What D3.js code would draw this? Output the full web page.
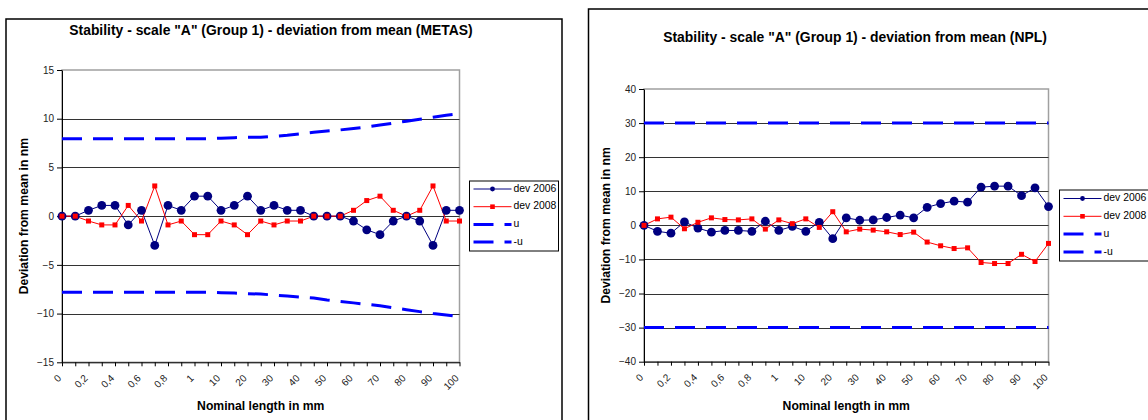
<!DOCTYPE html>
<html>
<head>
<meta charset="utf-8">
<script src="https://cdn.jsdelivr.net/npm/d3@7"></script>
<style>
  html, body { margin: 0; padding: 0; background: #fff; }
  svg { display: block; font-family: "Liberation Sans", Arial, sans-serif; }
</style>
</head>
<body>
<svg id="chart" width="1148" height="420"></svg>
<script>
// Nominal lengths (mm): 0 to 1 in 0.1 steps, then 5 to 100 in 5 mm steps
const categories = [0, 0.1, 0.2, 0.3, 0.4, 0.5, 0.6, 0.7, 0.8, 0.9, 1,
  5, 10, 15, 20, 25, 30, 35, 40, 45, 50, 55, 60, 65, 70, 75, 80, 85, 90, 95, 100];

// Labels shown on every second category
const tickLabels = ["0", "0,2", "0,4", "0,6", "0,8", "1", "10", "20", "30",
  "40", "50", "60", "70", "80", "90", "100"];

// METAS: deviation from mean (nm)
const metasDev2006 = [0, 0, 0.6, 1.1, 1.1, -0.9, 0.6, -3.0, 1.1, 0.6,
  2.05, 2.05, 0.6, 1.1, 2.05, 0.6, 1.1, 0.6, 0.6, 0,
  0, 0, -0.5, -1.4, -1.9, -0.5, 0, -0.5, -3.0, 0.6, 0.6];
const metasDev2008 = [0, 0, -0.5, -0.9, -0.9, 1.1, -0.5, 3.1, -0.9, -0.5,
  -1.9, -1.9, -0.5, -0.9, -1.9, -0.5, -0.9, -0.5, -0.5, 0,
  0, 0, 0.6, 1.6, 2.05, 0.6, 0, 0.6, 3.1, -0.5, -0.5];
const metasU = [7.95, 7.95, 7.95, 7.95, 7.95, 7.95, 7.95, 7.95, 7.95, 7.95,
  7.95, 7.95, 8.0, 8.05, 8.1, 8.1, 8.2, 8.3, 8.45, 8.6,
  8.75, 8.85, 9.0, 9.15, 9.35, 9.55, 9.75, 9.95, 10.15, 10.35, 10.5];
const metasMinusU = [-7.8, -7.8, -7.8, -7.8, -7.8, -7.8, -7.8, -7.8, -7.8, -7.8,
  -7.8, -7.8, -7.85, -7.9, -7.95, -8.0, -8.1, -8.2, -8.3, -8.4,
  -8.6, -8.75, -8.9, -9.05, -9.2, -9.4, -9.6, -9.8, -10.0, -10.15, -10.3];

// NPL: deviation from mean (nm)
const nplDev2006 = [0, -1.75, -2.3, 1.0, -0.8, -2.0, -1.5, -1.5, -1.75, 1.2,
  -1.5, -0.3, -1.75, 0.9, -3.9, 2.2, 1.5, 1.6, 2.3, 3.0,
  2.2, 5.3, 6.4, 7.1, 6.8, 11.2, 11.5, 11.5, 8.7, 11.0, 5.5];
const nplDev2008 = [0, 1.9, 2.4, -1.0, 0.9, 2.2, 1.7, 1.6, 1.9, -1.1,
  1.6, 0.5, 1.9, -0.6, 4.0, -1.9, -1.1, -1.4, -1.9, -2.7,
  -2.0, -4.9, -6.0, -6.8, -6.6, -10.9, -11.2, -11.2, -8.5, -10.6, -5.3];
const nplU = [30, 30, 30, 30, 30, 30, 30, 30, 30, 30,
  30, 30, 30, 30, 30, 30, 30, 30, 30, 30,
  30, 30, 30, 30, 30, 30, 30, 30, 30, 30, 30];
const nplMinusU = [-30, -30, -30, -30, -30, -30, -30, -30, -30, -30,
  -30, -30, -30, -30, -30, -30, -30, -30, -30, -30,
  -30, -30, -30, -30, -30, -30, -30, -30, -30, -30, -30];

const yTicksMetas = [-15, -10, -5, 0, 5, 10, 15];
const yTicksNpl = [-40, -30, -20, -10, 0, 10, 20, 30, 40];

const NAVY = "#000080", RED = "#ff0000", BLUE = "#0000ff";
const DASH = "20,11";

const svg = d3.select("#chart");
svg.append("rect").attr("width", 1148).attr("height", 420).attr("fill", "#fff");

function seriesDefs(dev06, dev08, u, mu) {
  return [
    { name: "dev 2006", values: dev06, color: NAVY, width: 1, marker: "circle" },
    { name: "dev 2008", values: dev08, color: RED, width: 1, marker: "square" },
    { name: "u", values: u, color: BLUE, width: 3, dash: DASH },
    { name: "-u", values: mu, color: BLUE, width: 3, dash: DASH }
  ];
}

function drawChart(cfg) {
  const g = svg.append("g");

  // outer chart frame
  g.append("rect")
    .attr("x", cfg.frame.x).attr("y", cfg.frame.y)
    .attr("width", cfg.frame.w).attr("height", cfg.frame.h)
    .attr("fill", "#fff").attr("stroke", "#000").attr("stroke-width", 1.5);

  const x = d3.scalePoint().domain(categories).range([cfg.plot.x0, cfg.plot.x1]).padding(0);
  const y = d3.scaleLinear().domain(cfg.yDomain).range([cfg.plot.y1, cfg.plot.y0]);

  // plot area border
  g.append("rect")
    .attr("x", cfg.plot.x0).attr("y", cfg.plot.y0)
    .attr("width", cfg.plot.x1 - cfg.plot.x0).attr("height", cfg.plot.y1 - cfg.plot.y0)
    .attr("fill", "#fff").attr("stroke", "#a0a0a0").attr("stroke-width", 1.5);

  // horizontal gridlines
  g.append("g").selectAll("line")
    .data(cfg.yTicks.filter(t => t > cfg.yDomain[0] && t < cfg.yDomain[1]))
    .join("line")
    .attr("x1", cfg.plot.x0).attr("x2", cfg.plot.x1)
    .attr("y1", d => Math.round(y(d)) + 0.5).attr("y2", d => Math.round(y(d)) + 0.5)
    .attr("stroke", "#333").attr("stroke-width", 1);

  // y axis
  const yAxis = g.append("g")
    .attr("transform", `translate(${cfg.plot.x0},0)`)
    .call(d3.axisLeft(y).tickValues(cfg.yTicks).tickSize(5).tickPadding(3).tickSizeOuter(0));
  yAxis.select(".domain").attr("stroke", "#000");
  yAxis.selectAll(".tick line").attr("stroke", "#000");
  yAxis.selectAll(".tick text")
    .attr("font-family", "Liberation Sans, Arial, sans-serif")
    .attr("font-size", 10).attr("fill", "#222");

  // x axis with every second category labelled
  const xAxis = g.append("g")
    .attr("transform", `translate(0,${cfg.plot.y1})`)
    .call(d3.axisBottom(x).tickSize(4).tickSizeOuter(0)
      .tickFormat((d, i) => (i % 2 === 0 ? tickLabels[i / 2] : "")));
  xAxis.select(".domain").attr("stroke", "#000");
  xAxis.selectAll(".tick line").attr("stroke", "#000");
  xAxis.selectAll(".tick text")
    .attr("font-family", "Liberation Sans, Arial, sans-serif")
    .attr("font-size", 10).attr("fill", "#222")
    .attr("text-anchor", "end")
    .attr("y", 0).attr("dy", "0.35em")
    .attr("transform", "translate(-3,14) rotate(-45)");

  const series = cfg.series;

  // data lines
  const line = d3.line().x((d, i) => x(categories[i])).y(d => y(d));
  series.forEach(s => {
    g.append("path")
      .datum(s.values)
      .attr("d", line)
      .attr("fill", "none")
      .attr("stroke", s.color)
      .attr("stroke-width", s.width)
      .attr("stroke-dasharray", s.dash || null);
  });

  // markers
  series.forEach(s => {
    if (s.marker === "circle") {
      g.append("g").selectAll("circle").data(s.values).join("circle")
        .attr("cx", (d, i) => x(categories[i])).attr("cy", d => y(d))
        .attr("r", 4.4).attr("fill", s.color);
    } else if (s.marker === "square") {
      g.append("g").selectAll("rect").data(s.values).join("rect")
        .attr("x", (d, i) => x(categories[i]) - 2.5).attr("y", d => y(d) - 2.5)
        .attr("width", 5).attr("height", 5).attr("fill", s.color);
    }
  });

  // title
  g.append("text")
    .attr("x", cfg.titlePos[0]).attr("y", cfg.titlePos[1])
    .attr("text-anchor", "middle").attr("dominant-baseline", "middle")
    .attr("font-size", cfg.titleSize).attr("font-weight", "bold").attr("fill", "#000")
    .text(cfg.title);

  // axis titles
  g.append("text")
    .attr("x", (cfg.plot.x0 + cfg.plot.x1) / 2).attr("y", cfg.xTitleY)
    .attr("text-anchor", "middle").attr("dominant-baseline", "middle")
    .attr("font-size", 12.2).attr("font-weight", "bold")
    .text("Nominal length in mm");
  g.append("text")
    .attr("transform", `translate(${cfg.yTitleX},${(cfg.plot.y0 + cfg.plot.y1) / 2}) rotate(-90)`)
    .attr("text-anchor", "middle").attr("dominant-baseline", "middle")
    .attr("font-size", 12.2).attr("font-weight", "bold")
    .text("Deviation from mean in nm");

  // legend
  const L = cfg.legend;
  g.append("rect")
    .attr("x", L.x).attr("y", L.y).attr("width", L.w).attr("height", L.h)
    .attr("fill", "#fff").attr("stroke", "#000").attr("stroke-width", 1);
  series.forEach((s, k) => {
    const cy = L.firstY + k * L.step;
    const lx0 = L.x + 4, lx1 = L.x + 42;
    g.append("line")
      .attr("x1", lx0).attr("x2", lx1).attr("y1", cy).attr("y2", cy)
      .attr("stroke", s.color).attr("stroke-width", s.width)
      .attr("stroke-dasharray", s.dash || null);
    if (s.marker === "circle") {
      g.append("circle").attr("cx", (lx0 + lx1) / 2).attr("cy", cy).attr("r", 2.4).attr("fill", s.color);
    } else if (s.marker === "square") {
      g.append("rect").attr("x", (lx0 + lx1) / 2 - 2.3).attr("y", cy - 2.3)
        .attr("width", 4.6).attr("height", 4.6).attr("fill", s.color);
    }
    g.append("text")
      .attr("x", L.x + 44).attr("y", cy)
      .attr("dominant-baseline", "middle")
      .attr("font-size", 10.4).attr("fill", "#000")
      .text(s.name);
  });
}

drawChart({
  frame: { x: 6, y: 19, w: 556, h: 420 },
  plot: { x0: 62, x1: 459.5, y0: 70, y1: 362.3 },
  yDomain: [-15, 15],
  yTicks: yTicksMetas,
  title: 'Stability - scale "A" (Group 1) - deviation from mean (METAS)',
  titlePos: [271, 31],
  titleSize: 13.9,
  xTitleY: 407,
  yTitleX: 25,
  series: seriesDefs(metasDev2006, metasDev2008, metasU, metasMinusU),
  legend: { x: 469.5, y: 181, w: 89, h: 70, firstY: 189, step: 17.7 }
});

drawChart({
  frame: { x: 588.5, y: 9, w: 600, h: 430 },
  plot: { x0: 644, x1: 1048.5, y0: 89, y1: 361.7 },
  yDomain: [-40, 40],
  yTicks: yTicksNpl,
  title: 'Stability - scale "A" (Group 1) - deviation from mean (NPL)',
  titlePos: [855, 38],
  titleSize: 13.9,
  xTitleY: 407,
  yTitleX: 607,
  series: seriesDefs(nplDev2006, nplDev2008, nplU, nplMinusU),
  legend: { x: 1059.5, y: 190, w: 95, h: 71, firstY: 198.5, step: 17.8 }
});
</script>
</body>
</html>
